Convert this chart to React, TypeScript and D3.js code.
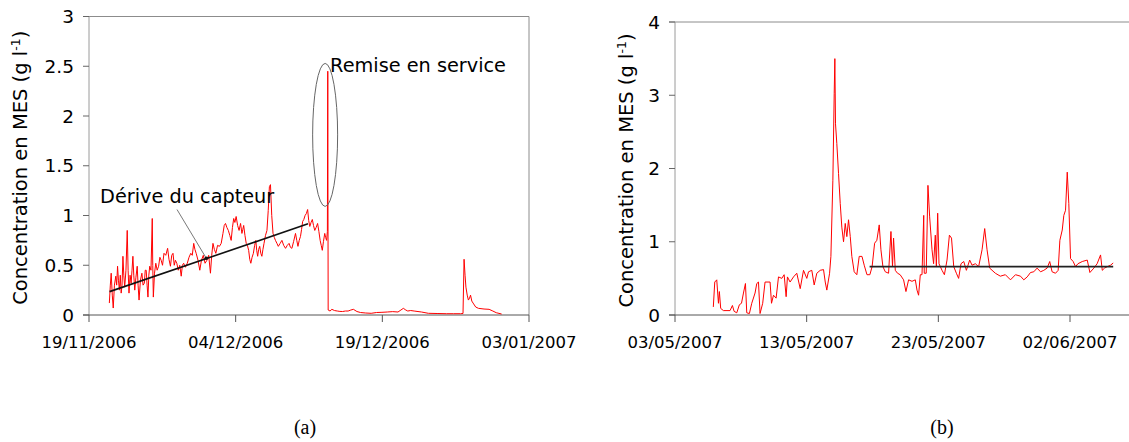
import React, { useEffect, useRef } from 'react';
import * as d3 from 'd3';

const W = 1129;
const H = 442;

// (a) jours depuis le 19/11/2006, concentration en MES (g/l)
const seriesA: [number, number][] = [
  [2.08, 0.12], [2.18, 0.3], [2.27, 0.42], [2.38, 0.2], [2.48, 0.07], [2.6, 0.3], [2.74, 0.39], [2.83, 0.3], [2.92, 0.49],
  [3.01, 0.35], [3.11, 0.25], [3.2, 0.4], [3.29, 0.22], [3.38, 0.3], [3.47, 0.59], [3.56, 0.4], [3.65, 0.28], [3.78, 0.45],
  [3.91, 0.85], [4.0, 0.45], [4.09, 0.22], [4.2, 0.4], [4.31, 0.32], [4.4, 0.45], [4.49, 0.59], [4.58, 0.4], [4.68, 0.25],
  [4.8, 0.38], [4.93, 0.49], [5.02, 0.3], [5.12, 0.15], [5.26, 0.35], [5.41, 0.42], [5.53, 0.3], [5.66, 0.32], [5.75, 0.45],
  [5.85, 0.45], [5.94, 0.3], [6.03, 0.18], [6.12, 0.4], [6.21, 0.49], [6.34, 0.45], [6.47, 0.97], [6.52, 0.5], [6.58, 0.18],
  [6.7, 0.42], [6.83, 0.52], [6.97, 0.45], [7.12, 0.49], [7.25, 0.58], [7.38, 0.55], [7.52, 0.5], [7.67, 0.62], [7.85, 0.6],
  [8.04, 0.67], [8.18, 0.56], [8.33, 0.49], [8.46, 0.6], [8.59, 0.62], [8.72, 0.5], [8.84, 0.55], [8.98, 0.52], [9.13, 0.45],
  [9.28, 0.5], [9.43, 0.39], [9.55, 0.5], [9.68, 0.52], [9.86, 0.48], [10.05, 0.52], [10.23, 0.58], [10.41, 0.62], [10.56, 0.6],
  [10.71, 0.72], [10.83, 0.66], [10.96, 0.62], [11.15, 0.55], [11.33, 0.45], [11.5, 0.55], [11.69, 0.6], [11.87, 0.52],
  [12.06, 0.55], [12.24, 0.6], [12.42, 0.42], [12.55, 0.6], [12.68, 0.72], [12.82, 0.66], [12.97, 0.62], [13.15, 0.7],
  [13.34, 0.69], [13.52, 0.72], [13.7, 0.82], [13.83, 0.9], [13.96, 0.92], [14.1, 0.88], [14.25, 0.85], [14.4, 0.8],
  [14.54, 0.75], [14.67, 0.88], [14.8, 0.97], [14.92, 0.93], [15.05, 0.99], [15.2, 0.9], [15.35, 0.85], [15.5, 0.92],
  [15.64, 0.82], [15.73, 0.86], [15.82, 0.9], [15.95, 0.8], [16.08, 0.72], [16.2, 0.7], [16.33, 0.65], [16.44, 0.56],
  [16.55, 0.52], [16.68, 0.58], [16.81, 0.62], [16.94, 0.7], [17.06, 0.75], [17.15, 0.65], [17.25, 0.59], [17.35, 0.66],
  [17.46, 0.69], [17.57, 0.62], [17.68, 0.59], [17.79, 0.66], [17.9, 0.72], [18.05, 0.8], [18.2, 0.85], [18.33, 1.05],
  [18.45, 1.29], [18.56, 1.31], [18.69, 1.0], [18.82, 0.82], [18.95, 0.78], [19.07, 0.75], [19.22, 0.72], [19.36, 0.69],
  [19.55, 0.72], [19.73, 0.75], [19.91, 0.7], [20.1, 0.67], [20.28, 0.7], [20.46, 0.72], [20.6, 0.68], [20.75, 0.67],
  [20.93, 0.74], [21.12, 0.82], [21.25, 0.75], [21.37, 0.69], [21.5, 0.75], [21.63, 0.79], [21.74, 0.86], [21.85, 0.94],
  [21.97, 0.96], [22.1, 1.0], [22.23, 1.02], [22.36, 1.06], [22.47, 0.95], [22.58, 0.89], [22.71, 0.93], [22.84, 0.96],
  [22.96, 0.9], [23.09, 0.85], [23.23, 0.88], [23.38, 0.92], [23.51, 0.84], [23.64, 0.75], [23.75, 0.7], [23.86, 0.65],
  [23.98, 0.74], [24.11, 0.82], [24.2, 0.78], [24.3, 0.75], [24.38, 0.84], [24.42, 2.45], [24.46, 0.05], [24.65, 0.04],
  [24.84, 0.057], [25.1, 0.045], [25.39, 0.04], [25.66, 0.036], [25.94, 0.035], [26.22, 0.04], [26.5, 0.04], [26.78, 0.05],
  [27.04, 0.057], [27.4, 0.035], [27.77, 0.025], [28.3, 0.02], [28.86, 0.017], [29.4, 0.025], [29.96, 0.027], [30.5, 0.03],
  [31.06, 0.034], [31.6, 0.03], [31.9, 0.05], [32.15, 0.067], [32.4, 0.05], [32.6, 0.04], [32.9, 0.045], [33.25, 0.04],
  [34.0, 0.03], [34.71, 0.017], [35.6, 0.015], [36.54, 0.013], [37.3, 0.013], [38.0, 0.013], [38.25, 0.015], [38.36, 0.56],
  [38.46, 0.4], [38.55, 0.28], [38.68, 0.2], [38.8, 0.15], [38.92, 0.17], [39.02, 0.2], [39.15, 0.14], [39.28, 0.12],
  [39.55, 0.08], [39.83, 0.067], [40.4, 0.06], [40.92, 0.057], [41.3, 0.04], [41.65, 0.023], [42.2, 0.01]
];
const driftA: [number, number][] = [[2.1, 0.235], [22.4, 0.916]];
const xTicksA = ['19/11/2006', '04/12/2006', '19/12/2006', '03/01/2007'];
const yTicksA = [0, 0.5, 1, 1.5, 2, 2.5, 3];

// (b) jours depuis le 03/05/2007
const seriesB: [number, number][] = [
  [2.91, 0.11], [3.02, 0.45], [3.17, 0.48], [3.3, 0.16], [3.37, 0.32], [3.47, 0.09], [3.68, 0.06], [4.18, 0.06],
  [4.36, 0.13], [4.49, 0.05], [4.69, 0.03], [4.89, 0.14], [5.05, 0.16], [5.2, 0.3], [5.35, 0.43], [5.45, 0.03],
  [5.65, 0.02], [5.83, 0.16], [6.08, 0.3], [6.21, 0.43], [6.34, 0.45], [6.46, 0.02], [6.66, 0.16], [6.84, 0.45],
  [7.22, 0.45], [7.33, 0.16], [7.48, 0.27], [7.68, 0.23], [7.86, 0.52], [8.11, 0.5], [8.29, 0.55], [8.44, 0.25],
  [8.54, 0.52], [8.74, 0.45], [9.0, 0.52], [9.25, 0.57], [9.51, 0.36], [9.76, 0.61], [10.01, 0.5], [10.14, 0.59],
  [10.39, 0.61], [10.57, 0.41], [10.77, 0.57], [11.03, 0.61], [11.28, 0.62], [11.41, 0.45], [11.53, 0.34], [11.74, 0.57],
  [11.84, 0.8], [11.99, 1.84], [12.09, 3.02], [12.14, 3.5], [12.19, 2.61], [12.29, 2.34], [12.42, 1.93], [12.55, 1.52],
  [12.67, 1.2], [12.8, 1.0], [12.93, 1.25], [13.05, 1.07], [13.18, 1.3], [13.31, 1.07], [13.43, 0.8], [13.61, 0.59],
  [13.81, 0.55], [13.99, 0.8], [14.2, 0.8], [14.37, 0.68], [14.58, 0.55], [14.8, 0.55], [14.97, 0.66], [15.16, 0.98],
  [15.33, 1.02], [15.51, 1.23], [15.64, 0.89], [15.79, 0.66], [15.97, 0.59], [16.22, 0.57], [16.4, 1.14], [16.52, 0.66],
  [16.6, 1.05], [16.73, 0.61], [16.9, 0.57], [17.1, 0.55], [17.36, 0.48], [17.54, 0.32], [17.74, 0.48], [18.0, 0.46],
  [18.25, 0.48], [18.38, 0.34], [18.5, 0.27], [18.63, 0.55], [18.76, 0.55], [18.89, 1.36], [18.93, 0.57], [19.08, 0.57],
  [19.21, 1.77], [19.34, 1.34], [19.52, 0.89], [19.64, 0.7], [19.77, 1.09], [19.85, 0.66], [19.95, 1.39], [20.05, 0.7],
  [20.28, 0.61], [20.46, 0.55], [20.66, 0.75], [20.84, 1.09], [21.0, 1.05], [21.17, 0.66], [21.37, 0.57], [21.54, 0.5],
  [21.72, 0.7], [21.93, 0.73], [22.13, 0.61], [22.38, 0.75], [22.56, 0.68], [22.81, 0.7], [23.06, 0.66], [23.32, 0.89],
  [23.52, 1.18], [23.7, 0.89], [23.9, 0.64], [24.33, 0.57], [24.71, 0.53], [25.09, 0.55], [25.48, 0.48], [25.86, 0.55],
  [26.24, 0.53], [26.49, 0.48], [26.75, 0.52], [27.0, 0.58], [27.25, 0.59], [27.5, 0.64], [27.76, 0.59], [28.01, 0.61],
  [28.26, 0.64], [28.46, 0.73], [28.64, 0.59], [28.9, 0.57], [29.1, 0.61], [29.23, 1.02], [29.41, 1.16], [29.53, 1.36],
  [29.66, 1.43], [29.79, 1.95], [29.91, 1.52], [30.04, 0.77], [30.24, 0.73], [30.42, 0.66], [30.6, 0.7], [30.93, 0.73],
  [31.31, 0.75], [31.51, 0.58], [31.81, 0.64], [32.06, 0.7], [32.32, 0.82], [32.45, 0.61], [32.62, 0.64], [32.83, 0.66],
  [33.08, 0.68], [33.28, 0.71]
];
const levelB: [number, number][] = [[14.78, 0.66], [33.28, 0.66]];
const xTicksB = ['03/05/2007', '13/05/2007', '23/05/2007', '02/06/2007'];
const yTicksB = [0, 1, 2, 3, 4];

const FONT = 'DejaVu Sans, Verdana, sans-serif';

const App: React.FC = () => {
  const svgRef = useRef<SVGSVGElement>(null);

  useEffect(() => {
    if (!svgRef.current) return;
    const svg = d3.select(svgRef.current);
    svg.selectAll('*').remove();

    const parse = d3.timeParse('%d/%m/%Y');
    const day = (start: Date, d: number) => new Date(start.getTime() + d * 864e5);

    const panel = (o: {
      xTicks: string[]; endDays: number; yTicks: number[];
      x0: number; x1: number; yTop: number; yBottom: number;
      series: [number, number][]; labelX: number; caption: string; captionX: number;
    }) => {
      const start = parse(o.xTicks[0]) as Date;
      const yMax = o.yTicks[o.yTicks.length - 1];
      const x = d3.scaleTime().domain([start, day(start, o.endDays)]).range([o.x0, o.x1]);
      const y = d3.scaleLinear().domain([0, yMax]).range([o.yBottom, o.yTop]);
      const g = svg.append('g');
      const right = Math.min(o.x1, W + 5);

      // cadre
      g.append('line').attr('x1', o.x0 - 6).attr('x2', right).attr('y1', y(yMax)).attr('y2', y(yMax))
        .attr('stroke', '#8c8c8c').attr('stroke-width', 1);
      if (o.x1 <= W) {
        g.append('line').attr('x1', o.x1).attr('x2', o.x1).attr('y1', y(yMax)).attr('y2', y(0))
          .attr('stroke', '#8c8c8c').attr('stroke-width', 1);
      }
      g.append('line').attr('x1', o.x0).attr('x2', o.x0).attr('y1', y(yMax)).attr('y2', y(0))
        .attr('stroke', '#9a9a9a').attr('stroke-width', 1);

      // axe y
      g.selectAll('.yt').data(o.yTicks).enter().append('line')
        .attr('x1', o.x0 - 6).attr('x2', o.x0).attr('y1', d => y(d)).attr('y2', d => y(d))
        .attr('stroke', '#666').attr('stroke-width', 1);
      g.selectAll('.yl').data(o.yTicks).enter().append('text')
        .attr('x', o.x0 - 15).attr('y', d => y(d)).attr('dy', '0.36em')
        .attr('text-anchor', 'end').attr('font-family', FONT).attr('font-size', 18.5).attr('fill', '#000')
        .text(d => String(d));

      // axe x
      g.append('line').attr('x1', o.x0 - 6).attr('x2', right).attr('y1', y(0)).attr('y2', y(0))
        .attr('stroke', '#555').attr('stroke-width', 1);
      const tickDates = o.xTicks.map(t => parse(t) as Date);
      g.selectAll('.xt').data(tickDates).enter().append('line')
        .attr('x1', d => x(d)).attr('x2', d => x(d)).attr('y1', y(0)).attr('y2', y(0) + 7)
        .attr('stroke', '#555').attr('stroke-width', 1);
      g.selectAll('.xl').data(o.xTicks).enter().append('text')
        .attr('x', (d, i) => x(tickDates[i])).attr('y', y(0) + 33)
        .attr('text-anchor', 'middle').attr('font-family', FONT).attr('font-size', 16.5).attr('fill', '#000')
        .text(d => d);

      // série
      const line = d3.line<[number, number]>().x(d => x(day(start, d[0]))).y(d => y(d[1]));
      g.append('path').datum(o.series).attr('d', line).attr('fill', 'none')
        .attr('stroke', '#ff0000').attr('stroke-width', 1).attr('stroke-linejoin', 'round');

      // titre de l'axe y
      const yl = g.append('text')
        .attr('transform', `translate(${o.labelX},${(y(0) + y(yMax)) / 2 + 2}) rotate(-90)`)
        .attr('text-anchor', 'middle').attr('font-family', FONT).attr('font-size', 19.5).attr('fill', '#000');
      yl.append('tspan').text('Concentration en MES (g l');
      yl.append('tspan').attr('font-size', 12.5).attr('dy', -7.5).text('-1');
      yl.append('tspan').attr('dy', 7.5).text(')');

      // légende (a)/(b)
      svg.append('text').attr('x', o.captionX).attr('y', 434).attr('text-anchor', 'middle')
        .attr('font-family', 'Liberation Serif, DejaVu Serif, serif').attr('font-size', 20).attr('fill', '#000')
        .text(o.caption);

      return { g, x, y, start };
    };

    const a = panel({
      xTicks: xTicksA, endDays: 45, yTicks: yTicksA, x0: 89, x1: 529, yTop: 16.5, yBottom: 315,
      series: seriesA, labelX: 27, caption: '(a)', captionX: 305
    });
    const ax = (d: number) => a.x(day(a.start, d));

    a.g.append('path').datum(driftA)
      .attr('d', d3.line<[number, number]>().x(d => ax(d[0])).y(d => a.y(d[1])))
      .attr('stroke', '#111').attr('stroke-width', 1.6).attr('fill', 'none');
    // annotation : dérive
    a.g.append('line').attr('x1', ax(9.0)).attr('y1', a.y(1.06)).attr('x2', ax(12.0)).attr('y2', a.y(0.57))
      .attr('stroke', '#555').attr('stroke-width', 0.8);
    a.g.append('circle').attr('cx', ax(12.0)).attr('cy', a.y(0.57)).attr('r', 1.8).attr('fill', '#111');
    a.g.append('text').attr('x', ax(1.13)).attr('y', a.y(1.13)).attr('font-family', FONT).attr('font-size', 19.3)
      .attr('fill', '#000').text('Dérive du capteur');
    // annotation : remise en service
    a.g.append('ellipse').attr('cx', ax(24.15)).attr('cy', a.y(1.81)).attr('rx', 12.5).attr('ry', 71.5)
      .attr('fill', 'none').attr('stroke', '#666').attr('stroke-width', 1);
    a.g.append('text').attr('x', ax(24.66)).attr('y', a.y(2.44)).attr('font-family', FONT).attr('font-size', 19.3)
      .attr('fill', '#000').text('Remise en service');

    const b = panel({
      xTicks: xTicksB, endDays: 40, yTicks: yTicksB, x0: 675, x1: 675 + 40 * 13.167, yTop: 22, yBottom: 315,
      series: seriesB, labelX: 633, caption: '(b)', captionX: 942
    });
    const bx = (d: number) => b.x(day(b.start, d));
    b.g.append('path').datum(levelB)
      .attr('d', d3.line<[number, number]>().x(d => bx(d[0])).y(d => b.y(d[1])))
      .attr('stroke', '#222').attr('stroke-width', 1.6).attr('fill', 'none');
  }, []);

  return (
    <svg ref={svgRef} width={W} height={H}
      style={{ position: 'absolute', left: 0, top: 0, background: '#fff' }} />
  );
};

export default App;
